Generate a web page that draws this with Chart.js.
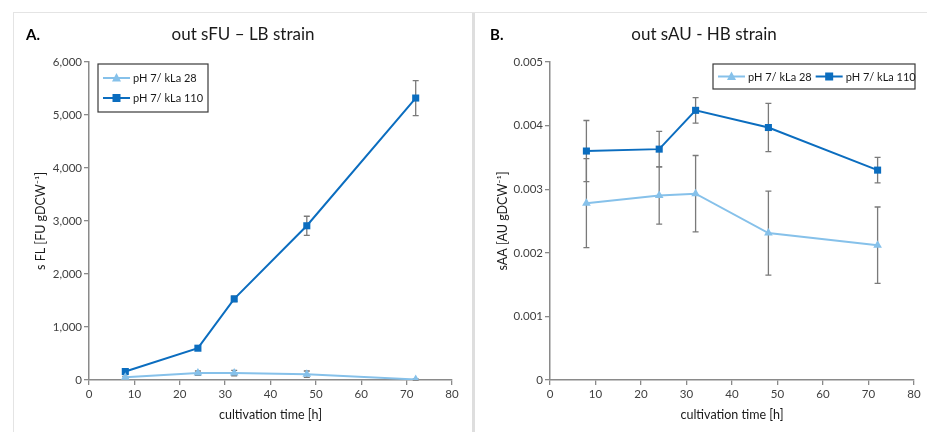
<!DOCTYPE html>
<html>
<head>
<meta charset="utf-8">
<script src="https://cdn.jsdelivr.net/npm/chart.js@4"></script>
<style>
  html, body { margin: 0; padding: 0; background: #fff; }
  body { width: 927px; height: 432px; position: relative; overflow: hidden; font-family: Lato, sans-serif; }
  .frame { position: absolute; left: 13px; top: 12px; width: 914px; height: 420px; border-left: 1px solid #e4e4e4; border-top: 1px solid #e4e4e4; }
  .sep { position: absolute; left: 472px; top: 13px; width: 3px; height: 419px; background: #dedede; }
  .panel { position: absolute; top: 13px; height: 419px; }
  #pa { left: 14px; width: 458px; }
  #pb { left: 476px; width: 451px; }
</style>
</head>
<body>
<div class="frame"></div>
<div class="sep"></div>
<div class="panel" id="pa"><canvas id="chartA"></canvas></div>
<div class="panel" id="pb"><canvas id="chartB"></canvas></div>
<script>
// cultivation time [h]
const hours = [8, 24, 32, 48, 72];

// A: out sFU - LB strain
const sfuKla28 = [50, 130, 130, 110, 10];
const sfuKla28Err = [20, 40, 50, 60, 10];
const sfuKla110 = [160, 600, 1530, 2910, 5320];
const sfuKla110Err = [30, 40, 50, 180, 330];

// B: out sAU - HB strain
const saaKla28 = [0.00278, 0.0029, 0.00293, 0.00231, 0.00212];
const saaKla28Err = [0.0007, 0.00045, 0.0006, 0.00066, 0.0006];
const saaKla110 = [0.0036, 0.00363, 0.00424, 0.00397, 0.0033];
const saaKla110Err = [0.00048, 0.00028, 0.0002, 0.00038, 0.0002];

const seriesNames = ["pH 7/ kLa 28", "pH 7/ kLa 110"];
const lightBlue = "#86c1ea";
const darkBlue = "#0b6dbf";
const axisGrey = "#8a8a8a";
const textColor = "#404040";

function toPoints(ys) {
    return hours.map((h, i) => ({ x: h, y: ys[i] }));
}

function drawMarker(ctx, style, x, y, r, color) {
    ctx.save();
    ctx.fillStyle = color;
    ctx.beginPath();
    if (style === "rect") {
        ctx.rect(x - r, y - r, r * 2, r * 2);
    } else {
        ctx.moveTo(x, y - r * 1.1);
        ctx.lineTo(x + r, y + r * 0.75);
        ctx.lineTo(x - r, y + r * 0.75);
        ctx.closePath();
    }
    ctx.fill();
    ctx.restore();
}

// error bars, drawn under the lines
const errorBars = {
    id: "errorBars",
    beforeDatasetsDraw(chart) {
        const ctx = chart.ctx;
        const xs = chart.scales.x, ys = chart.scales.y;
        ctx.save();
        ctx.strokeStyle = "#7a7a7a";
        ctx.lineWidth = 1.3;
        chart.data.datasets.forEach(ds => {
            ds.data.forEach((p, i) => {
                const e = ds.err[i];
                const px = xs.getPixelForValue(p.x);
                const top = ys.getPixelForValue(p.y + e);
                const bot = ys.getPixelForValue(p.y - e);
                ctx.beginPath();
                ctx.moveTo(px, top); ctx.lineTo(px, bot);
                ctx.moveTo(px - 3, top); ctx.lineTo(px + 3, top);
                ctx.moveTo(px - 3, bot); ctx.lineTo(px + 3, bot);
                ctx.stroke();
            });
        });
        ctx.restore();
    }
};

// panel letter, title and boxed legend
const decorations = {
    id: "decorations",
    afterDraw(chart) {
        const o = chart.options.plugins.decorations;
        const ctx = chart.ctx;
        ctx.save();
        ctx.fillStyle = "#000";
        ctx.textBaseline = "middle";
        ctx.font = "bold 15px Lato";
        ctx.textAlign = "left";
        ctx.fillText(o.letter, o.letterX, 22);
        ctx.fillStyle = "#1a1a1a";
        ctx.font = "17px Lato";
        ctx.textAlign = "center";
        ctx.fillText(o.title, o.titleX, 22);

        const b = o.legend;
        ctx.strokeStyle = "#3a3a3a";
        ctx.lineWidth = 1.2;
        ctx.strokeRect(b.x, b.y, b.w, b.h);
        ctx.font = "11px Lato";
        ctx.textAlign = "left";
        let x = b.x + 5, y = b.y + b.first;
        chart.data.datasets.forEach(ds => {
            ctx.strokeStyle = ds.borderColor;
            ctx.lineWidth = 2;
            ctx.beginPath();
            ctx.moveTo(x, y);
            ctx.lineTo(x + 27, y);
            ctx.stroke();
            drawMarker(ctx, ds.pointStyle, x + 13.5, y, ds.pointStyle === "rect" ? 4 : 4.5, ds.backgroundColor);
            ctx.fillStyle = "#1a1a1a";
            ctx.fillText(ds.label, x + 30, y + 0.5);
            if (b.horizontal) {
                x += 30 + ctx.measureText(ds.label).width + 4;
            } else {
                y += b.rowGap;
            }
        });
        ctx.restore();
    }
};

function makeChart(id, low, lowErr, high, highErr, yOpts, deco) {
    return new Chart(document.getElementById(id), {
        type: "line",
        data: {
            datasets: [
                {
                    label: seriesNames[0],
                    data: toPoints(low),
                    err: lowErr,
                    borderColor: lightBlue,
                    backgroundColor: lightBlue,
                    borderWidth: 2,
                    pointStyle: "triangle",
                    pointRadius: 5,
                    pointBorderWidth: 0,
                    fill: false,
                    tension: 0
                },
                {
                    label: seriesNames[1],
                    data: toPoints(high),
                    err: highErr,
                    borderColor: darkBlue,
                    backgroundColor: darkBlue,
                    borderWidth: 2,
                    pointStyle: "rect",
                    pointRadius: 5,
                    pointBorderWidth: 0,
                    fill: false,
                    tension: 0
                }
            ]
        },
        options: {
            responsive: true,
            maintainAspectRatio: false,
            animation: false,
            layout: { padding: { top: 49, right: deco.padRight, left: 0, bottom: 0 } },
            plugins: {
                legend: { display: false },
                tooltip: { enabled: false },
                decorations: deco
            },
            scales: {
                x: {
                    type: "linear",
                    min: 0,
                    max: 80,
                    ticks: { stepSize: 10, color: textColor, font: { family: "Lato", size: 11.5 }, padding: 2, maxRotation: 0 },
                    grid: { display: true, drawOnChartArea: false, drawTicks: true, tickLength: 5, color: axisGrey, lineWidth: 1.3 },
                    border: { display: true, color: axisGrey, width: 1.5 },
                    title: { display: true, text: "cultivation time [h]", color: "#1a1a1a", font: { family: "Lato", size: 12.5 }, padding: { top: 0, bottom: 10 } },
                    afterFit(scale) { scale.height = 52; }
                },
                y: {
                    min: 0,
                    max: yOpts.max,
                    ticks: { stepSize: yOpts.step, color: textColor, font: { family: "Lato", size: 11.5 }, padding: 2, callback: yOpts.format },
                    grid: { display: true, drawOnChartArea: false, drawTicks: true, tickLength: 5, color: axisGrey, lineWidth: 1.3 },
                    border: { display: true, color: axisGrey, width: 1.5 },
                    title: { display: true, text: yOpts.title, color: "#1a1a1a", font: { family: "Lato", size: 12.5 }, padding: { top: 19, bottom: 0 } },
                    afterFit(scale) { scale.width = yOpts.axisWidth; }
                }
            }
        },
        plugins: [errorBars, decorations]
    });
}

makeChart("chartA", sfuKla28, sfuKla28Err, sfuKla110, sfuKla110Err,
    {
        max: 6000, step: 1000, axisWidth: 75,
        title: "s FL [FU gDCW\u207B\u00B9]",
        format: v => v.toLocaleString("en-US")
    },
    {
        letter: "A.", letterX: 12, title: "out sFU \u2013 LB strain", titleX: 229, padRight: 20,
        legend: { x: 84, y: 51, w: 110, h: 48, first: 14, rowGap: 20, horizontal: false }
    });

makeChart("chartB", saaKla28, saaKla28Err, saaKla110, saaKla110Err,
    {
        max: 0.005, step: 0.001, axisWidth: 74,
        title: "sAA [AU gDCW\u207B\u00B9]",
        format: v => v === 0 ? "0" : v.toFixed(3)
    },
    {
        letter: "B.", letterX: 14, title: "out sAU - HB strain", titleX: 228, padRight: 13,
        legend: { x: 237, y: 51, w: 202, h: 25, first: 12.5, horizontal: true }
    });
</script>
</body>
</html>
